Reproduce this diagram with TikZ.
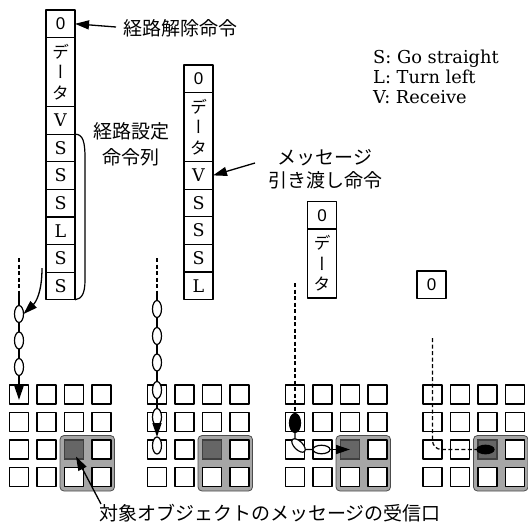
\documentclass[tikz,border=0pt]{standalone}
\usepackage{fontspec}
\newfontfamily\jpfam{Noto Sans CJK JP}
\newfontfamily\jpvfam[RawFeature=+vert]{Noto Sans CJK JP}
\newfontfamily\numfam{Liberation Sans}
\newfontfamily\serfam{DejaVu Serif}
\usetikzlibrary{arrows.meta,positioning,shapes.geometric,calc}
\begin{document}
\begin{tikzpicture}[x=1pt,y=-1pt,line join=round,
  cmd/.style={draw,line width=1.3pt,minimum width=29pt,minimum height=27.6pt,inner sep=0pt,outer sep=0pt,font=\serfam\fontsize{17.5}{21}\selectfont},
  zero/.style={cmd,font=\numfam\fontsize{17}{20}\selectfont},
  datab/.style={cmd,minimum height=69pt,align=center,font=\jpvfam\fontsize{17}{20.5}\selectfont},
  jp/.style={inner sep=0pt,font=\jpfam\fontsize{19}{22}\selectfont},
  leg/.style={inner sep=0pt,anchor=base west,font=\serfam\fontsize{17.8}{22}\selectfont},
  sq/.style={draw,line width=1.5pt,fill=white,minimum size=19pt,inner sep=0pt,outer sep=0pt},
  ell/.style={ellipse,draw,line width=1.2pt,fill=white,minimum width=9pt,minimum height=17pt,inner sep=0pt,outer sep=0pt},
  ellh/.style={ell,minimum width=17pt,minimum height=8.5pt},
  arr/.style={line width=1.3pt,-{Triangle[length=14pt,width=9pt]}},
  con/.style={line width=1.3pt},
  dsh/.style={line width=1.2pt,dash pattern=on 4pt off 2.5pt},
  zone/.style={draw=black!70,line width=0.8pt,fill=black!35,rounded corners=4pt}
]
\useasboundingbox (0,0) rectangle (528,523);

% grids
\foreach \k/\gx in {1/9.5,2/147.5,3/285.5,4/423}{
  \draw[zone] (\gx+50.5,435.5) rectangle (\gx+105,491);
  \foreach \r in {1,...,4}{
    \foreach \c in {1,...,4}{
      \node[sq] (g\k s\r\c) at ({\gx+9.5+27.5*(\c-1)},{394.5+27.5*(\r-1)}) {};
    }
  }
  \node[sq,fill=black!60,draw=black!75] (g\k dk) at (g\k s33) {};
}

% column 1
\node[zero,anchor=north] (c1a) at (60.5,10) {0};
\node[datab,below=0pt of c1a] (c1b) {デ\\ー\\タ};
\node[cmd,below=0pt of c1b] (c1c) {V};
\node[cmd,below=0pt of c1c] (c1s1) {S};
\node[cmd,below=0pt of c1s1] (c1s2) {S};
\node[cmd,below=0pt of c1s2] (c1s3) {S};
\node[cmd,below=0pt of c1s3] (c1s4) {L};
\node[cmd,below=0pt of c1s4] (c1s5) {S};
\node[cmd,below=0pt of c1s5] (c1s6) {S};

% column 2
\node[zero,anchor=north] (c2a) at (198.5,65) {0};
\node[datab,below=0pt of c2a] (c2b) {デ\\ー\\タ};
\node[cmd,below=0pt of c2b] (c2c) {V};
\node[cmd,below=0pt of c2c] (c2s1) {S};
\node[cmd,below=0pt of c2s1] (c2s2) {S};
\node[cmd,below=0pt of c2s2] (c2s3) {S};
\node[cmd,below=0pt of c2s3] (c2s4) {L};

% column 3
\node[zero,anchor=north] (c3a) at (322,201.5) {0};
\node[datab,below=0pt of c3a] (c3b) {デ\\ー\\タ};

% column 4
\node[zero,anchor=north] (c4a) at (431.5,271) {0};

% bracket
\draw[line width=1.2pt] (c1s1.north east) .. controls (83,134) and (85,142) .. (85,158) -- (85,280) .. controls (85,293) and (82,299) .. (c1s6.south east);

% labels
\node[jp,anchor=west] (l1) at (123,28.5) {経路解除命令};
\draw[arr] ($(l1.west)+(-7,-1.5)$) -- (c1a.east);
\node[jp] (l2a) at (131,131) {経路設定};
\node[jp] (l2b) at (131,157) {命令列};
\node[jp] (l3a) at (325,158) {メッセージ};
\node[jp] (l3b) at (325,180) {引き渡し命令};
\coordinate (m1) at (255,163);
\draw[arr] (m1) -- (c2c.east);

\node[leg] (k1) at (373,63) {S: Go straight};
\node[leg] (k2) at (373,83) {L: Turn left};
\node[leg] (k3) at (373,103) {V: Receive};

\node[jp] (l4) at (270,513) {対象オブジェクトのメッセージの受信口};
\coordinate (l4t) at (101,504);
\draw[arr] (l4t) -- ($(g1s33.center)+(2,7)$);

% grid 1 chain
\coordinate (g1d) at (19,258);
\coordinate (g1j) at (19,292);
\node[ell] (g1e1) at (19,314) {};
\node[ell] (g1e2) at (19,340.5) {};
\node[ell] (g1e3) at (19,367) {};
\draw[dsh] (g1d) -- (g1j);
\draw[con] (g1j) -- (g1e1) -- (g1e2) -- (g1e3);
\draw[arr] (g1e3) -- ($(g1s11.south)+(0,-4)$);
\coordinate (c1t) at ($(c1s5.south west)+(-4,-4)$);
\draw[arr] (c1t) .. controls (42,292) and (36,302) .. (g1e1.east);

% grid 2 chain
\coordinate (g2d) at (157,258);
\coordinate (g2j) at (157,292);
\node[ell] (g2e1) at (157,309) {};
\node[ell] (g2e2) at (157,336) {};
\node[ell] (g2e3) at (157,362.5) {};
\node[ell] (g2e4) at (157,390) {};
\node[ell] (g2e5) at (157,417) {};
\node[ell] (g2e6) at (157,445.5) {};
\draw[dsh] (g2d) -- (g2j);
\draw[con] (g2j) -- (g2e1) -- (g2e2) -- (g2e3) -- (g2e4) -- (g2e5);
\draw[arr] (g2e5) -- (g2e6.north);

% grid 3 chain
\coordinate (g3d) at (295,283);
\node[ell,fill=black,minimum width=11pt,minimum height=19pt] (g3b) at (295,423) {};
\node[ellh] (g3e2) at (321.5,449.5) {};
\draw[dsh] (g3d) -- (g3b);
\draw[con,rounded corners=9pt] (g3b.south) |- (g3e2.west);
\node[ellh,rotate=-45] (g3e1) at (298.5,445.5) {};
\draw[arr] (g3e2) -- (g3s33.center);

% grid 4 chain
\coordinate (g4d) at (432.5,338);
\node[ellh,fill=black] (g4b) at (485.5,449.5) {};
\draw[dsh,rounded corners=9pt] (g4d) |- (g4b.west);
\end{tikzpicture}
\end{document}
